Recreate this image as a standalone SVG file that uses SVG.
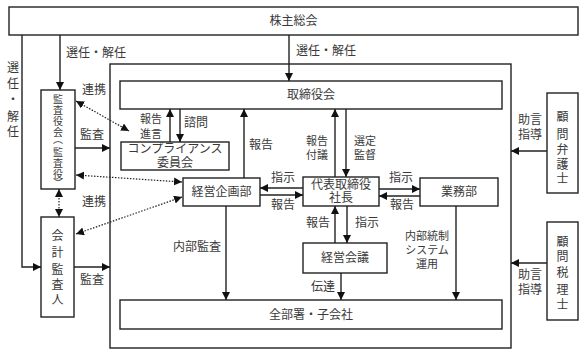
<svg xmlns="http://www.w3.org/2000/svg" width="586" height="355" viewBox="0 0 586 355">
<style>
text{font-family:"Noto Sans CJK JP","Noto Sans CJK SC",sans-serif;font-size:12px;fill:#3a3a3a}
.s{font-size:11px}
.box{fill:#fff;stroke:#222;stroke-width:1.4}
.ln{fill:none;stroke:#222;stroke-width:1.4}
.dot{fill:none;stroke:#222;stroke-width:1.2;stroke-dasharray:1.5 1.5}
.c{text-anchor:middle}
</style>
<defs>
<marker id="a" viewBox="0 0 8 8" refX="8" refY="4" markerWidth="8" markerHeight="8" markerUnits="userSpaceOnUse" orient="auto-start-reverse">
<path d="M0,0 L8,4 L0,8 z" fill="#111"/>
</marker>
</defs>

<g id="container"><rect class="box" x="110" y="64" width="401" height="284" fill="none"/></g>

<g id="kabunushi"><rect class="box" x="9" y="7" width="569" height="28"/><text class="c" x="293.5" y="25">株主総会</text></g>
<g id="torishimariyakukai"><rect class="box" x="120" y="81" width="382" height="28"/><text class="c" x="311" y="99">取締役会</text></g>
<g id="kansayakukai"><rect class="box" x="41" y="90" width="34" height="99"/><text class="c" x="58" style="font-size:10px"><tspan x="58" y="103">監</tspan><tspan x="58" y="114">査</tspan><tspan x="58" y="125">役</tspan><tspan x="58" y="136">会</tspan><tspan x="58" y="143">︵</tspan><tspan x="58" y="156">監</tspan><tspan x="58" y="167">査</tspan><tspan x="58" y="178">役</tspan><tspan x="58" y="187">︶</tspan></text></g>
<g id="kaikeikansanin"><rect class="box" x="41" y="217" width="33" height="100"/><text class="c" x="57.5"><tspan x="57.5" y="240">会</tspan><tspan x="57.5" y="257">計</tspan><tspan x="57.5" y="274">監</tspan><tspan x="57.5" y="289">査</tspan><tspan x="57.5" y="304">人</tspan></text></g>
<g id="compliance"><rect class="box" x="121" y="142" width="108" height="28"/><text class="c" x="175" y="153">コンプライアンス</text><text class="c" x="175" y="167">委員会</text></g>
<g id="keiei-kikaku"><rect class="box" x="183" y="178" width="77" height="28"/><text class="c" x="221.5" y="196">経営企画部</text></g>
<g id="shacho"><rect class="box" x="303" y="177" width="76" height="29"/><text class="c" x="341" y="189">代表取締役</text><text class="c" x="341" y="202">社長</text></g>
<g id="gyomubu"><rect class="box" x="420" y="178" width="78" height="28"/><text class="c" x="459" y="196">業務部</text></g>
<g id="keiei-kaigi"><rect class="box" x="303" y="243" width="84" height="30"/><text class="c" x="345" y="262">経営会議</text></g>
<g id="zenbusho"><rect class="box" x="120" y="300" width="382" height="29"/><text class="c" x="311" y="319">全部署・子会社</text></g>
<g id="bengoshi"><rect class="box" x="547" y="93" width="31" height="100"/><text class="c" x="562.5"><tspan x="562.5" y="121">顧</tspan><tspan x="562.5" y="139">問</tspan><tspan x="562.5" y="154">弁</tspan><tspan x="562.5" y="169">護</tspan><tspan x="562.5" y="183">士</tspan></text></g>
<g id="zeirishi"><rect class="box" x="547" y="222" width="31" height="98"/><text class="c" x="562.5"><tspan x="562.5" y="246">顧</tspan><tspan x="562.5" y="261">問</tspan><tspan x="562.5" y="277">税</tspan><tspan x="562.5" y="294">理</tspan><tspan x="562.5" y="309">士</tspan></text></g>

<g id="connectors">
<path class="ln" d="M60,35 V90" marker-end="url(#a)"/>
<path class="ln" d="M289,35 V81" marker-end="url(#a)"/>
<path class="ln" d="M22,35 V267 H41" marker-end="url(#a)"/>
<path class="ln" d="M75,148 H110" marker-end="url(#a)"/>
<path class="ln" d="M74,267 H110" marker-end="url(#a)"/>
<path class="dot" d="M59,189 V217" marker-start="url(#a)" marker-end="url(#a)"/>
<path class="dot" d="M76,101 L129,131" marker-start="url(#a)" marker-end="url(#a)"/>
<path class="dot" d="M76,175 L182,182" marker-start="url(#a)" marker-end="url(#a)"/>
<path class="dot" d="M76,234 L182,197" marker-start="url(#a)" marker-end="url(#a)"/>
<path class="ln" d="M170,142 V109" marker-end="url(#a)"/>
<path class="ln" d="M180,109 V142" marker-end="url(#a)"/>
<path class="ln" d="M244,178 V109" marker-end="url(#a)"/>
<path class="ln" d="M335,177 V109" marker-end="url(#a)"/>
<path class="ln" d="M346,109 V177" marker-end="url(#a)"/>
<path class="ln" d="M303,188 H260" marker-end="url(#a)"/>
<path class="ln" d="M260,195 H303" marker-end="url(#a)"/>
<path class="ln" d="M379,189 H420" marker-end="url(#a)"/>
<path class="ln" d="M420,196 H379" marker-end="url(#a)"/>
<path class="ln" d="M335,243 V206" marker-end="url(#a)"/>
<path class="ln" d="M347,206 V243" marker-end="url(#a)"/>
<path class="ln" d="M341,273 V300" marker-end="url(#a)"/>
<path class="ln" d="M226,206 V300" marker-end="url(#a)"/>
<path class="ln" d="M456,206 V300" marker-end="url(#a)"/>
<path class="ln" d="M547,151 H511" marker-end="url(#a)"/>
<path class="ln" d="M547,263 H511" marker-end="url(#a)"/>
</g>

<g id="labels">
<text class="c" x="96" y="57">選任・解任</text>
<text class="c" x="326" y="55">選任・解任</text>
<text class="c" x="13"><tspan x="13" y="72">選</tspan><tspan x="13" y="88">任</tspan><tspan x="13" y="104">・</tspan><tspan x="13" y="121">解</tspan><tspan x="13" y="136">任</tspan></text>
<text class="c" x="94" y="94">連携</text>
<text class="c" x="92" y="139">監査</text>
<text class="c" x="94" y="206">連携</text>
<text class="c" x="92" y="284">監査</text>
<text class="c s" x="151" y="123">報告</text>
<text class="c s" x="151" y="138">進言</text>
<text class="c" x="196" y="127">諮問</text>
<text class="c" x="261" y="149">報告</text>
<text class="c s" x="317" y="145">報告</text>
<text class="c s" x="317" y="159">付議</text>
<text class="c s" x="365" y="145">選定</text>
<text class="c s" x="365" y="159">監督</text>
<text class="c" x="283" y="182">指示</text>
<text class="c" x="283" y="209">報告</text>
<text class="c" x="401" y="182">指示</text>
<text class="c" x="402" y="209">報告</text>
<text class="c" x="318" y="227">報告</text>
<text class="c" x="367" y="227">指示</text>
<text class="c" x="323" y="291">伝達</text>
<text class="c" x="197" y="251">内部監査</text>
<text class="c s" x="427" y="240">内部統制</text>
<text class="c s" x="427" y="254">システム</text>
<text class="c s" x="427" y="268">運用</text>
<text class="c" x="530" y="124">助言</text>
<text class="c" x="530" y="139">指導</text>
<text class="c" x="530" y="279">助言</text>
<text class="c" x="530" y="294">指導</text>
</g>
</svg>
